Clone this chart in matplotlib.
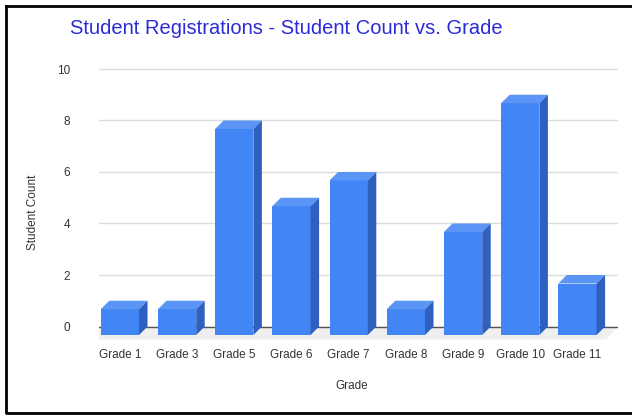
"""Student registrations - 3D-style column chart"""
import matplotlib
matplotlib.use('Agg')
import numpy as np
import matplotlib.pyplot as plt
from matplotlib.patches import Polygon, Rectangle

plt.rcParams['font.family'] = ['Liberation Sans', 'DejaVu Sans']

# Data
grades = ["Grade 1", "Grade 3", "Grade 5", "Grade 6", "Grade 7",
          "Grade 8", "Grade 9", "Grade 10", "Grade 11"]
counts = [1, 1, 8, 5, 6, 1, 4, 9, 2]
y_ticks = [0, 2, 4, 6, 8, 10]

W, H = 632, 415
fig = plt.figure(figsize=(W / 100, H / 100), dpi=100)

# axes placed in pixel terms: gridlines run x 99..618, y=10 at 69px, y=0 at 326.5px
px_unit = 25.75
step = 57.2
left_px, right_px = 99, 618
top_px, bot_px = 60, 345
ax = fig.add_axes([left_px / W, (H - bot_px) / H,
                   (right_px - left_px) / W, (bot_px - top_px) / H])
x0 = 128.35  # back centre of first column, px
ax.set_xlim((left_px - x0) / step, (right_px - x0) / step)
ax.set_ylim(-(bot_px - 326.5) / px_unit, (326.5 - top_px) / px_unit)

dx = 8.5 / step      # depth offset in category units
dy = 8.5 / px_unit   # depth offset in value units
w = 38.3 / step

# gridlines
for t in y_ticks[1:]:
    ax.axhline(t, color='#dcdcdc', lw=1.0, zorder=1)

# floor shadow
xl, xr = ax.get_xlim()
ax.add_patch(Polygon([(xl, 0), (xr, 0), (xr - 12 / step, -13 / px_unit),
                      (xl - 12 / step, -13 / px_unit)],
                     closed=True, facecolor='#efefef', edgecolor='none', zorder=1))
ax.axhline(0, color='#555555', lw=1.0, zorder=2)

front_c, top_c, side_c = '#4285f4', '#5b96f6', '#2f5fbf'
x = np.arange(len(grades))
for xi, v in zip(x, counts):
    fl, fr = xi - w / 2 - dx, xi + w / 2 - dx
    ax.add_patch(Rectangle((fl, -dy), w, v, facecolor=front_c, edgecolor='none', zorder=3))
    ax.add_patch(Polygon([(fl, v - dy), (fr, v - dy), (fr + dx, v), (fl + dx, v)],
                         closed=True, facecolor=top_c, edgecolor='none', zorder=3))
    ax.add_patch(Polygon([(fr, -dy), (fr + dx, 0), (fr + dx, v), (fr, v - dy)],
                         closed=True, facecolor=side_c, edgecolor='none', zorder=3))

for s in ax.spines.values():
    s.set_visible(False)
ax.set_xticks(x - dx)
ax.set_xticklabels(grades, fontsize=8.5, color='#333333')
ax.set_yticks(y_ticks)
ax.set_yticklabels([str(t) for t in y_ticks], fontsize=8.5, color='#333333')
ax.tick_params(axis='x', length=0, pad=3)
ax.tick_params(axis='y', length=0, pad=21)

fig.text(70 / W, 1 - 28.5 / H, "Student Registrations - Student Count vs. Grade",
         fontsize=14.5, color='#2b2bd9', ha='left', va='center')
fig.text(352 / W, 1 - 386 / H, "Grade", fontsize=8.5, color='#333333',
         ha='center', va='center')
fig.text(33 / W, 1 - 212 / H, "Student Count", fontsize=8.5, color='#333333',
         ha='center', va='center', rotation=90)

# outer frame (left, top, bottom)
fig.add_artist(plt.Line2D([6 / W, 6 / W, 1], [1 - 6 / H, 1 - 413 / H, 1 - 413 / H],
                          transform=fig.transFigure, color='black', lw=2))
fig.add_artist(plt.Line2D([6 / W, 1], [1 - 6 / H, 1 - 6 / H],
                          transform=fig.transFigure, color='black', lw=2))

fig.savefig("out.png", dpi=100)
